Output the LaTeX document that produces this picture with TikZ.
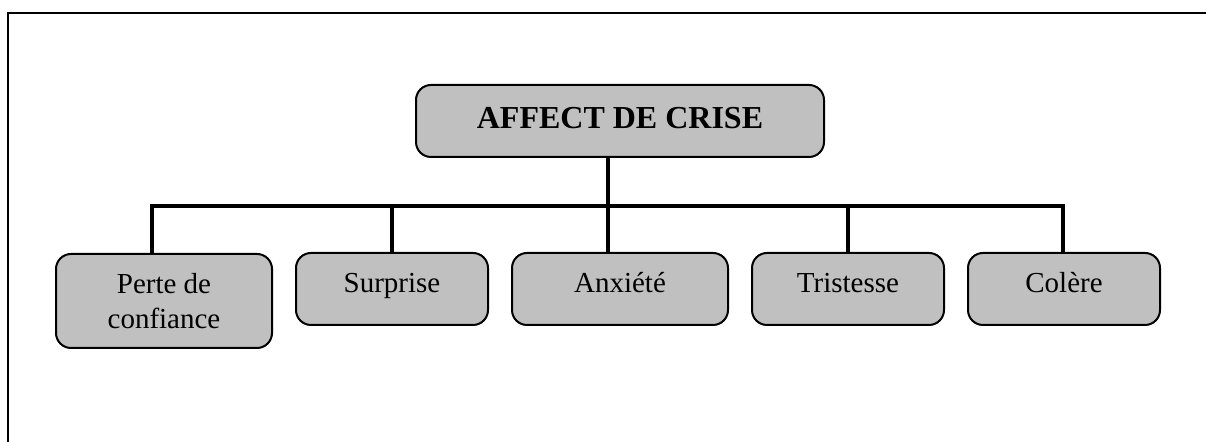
\documentclass[tikz,border=0pt]{standalone}
\usepackage{fontspec}
\setmainfont{Liberation Serif}
\usetikzlibrary{calc}
\usetikzlibrary{positioning}

\tikzset{
  box/.style={draw, line width=1pt, fill={rgb,255:red,192;green,192;blue,192}, rounded corners=7.5pt, inner sep=0pt, align=center, font=\fontsize{14.5}{17.5}\selectfont},
  oneline/.style={text height=7pt, text depth=3pt},
  conn/.style={line width=1.75pt}
}

\begin{document}
\begin{tikzpicture} [x=0.5pt,y=-0.5pt]
\useasboundingbox (0,0) rectangle (1206,442);
\draw[line width=1pt] (1206,13) -- (8,13) -- (8,442);

\node[box, text height=11pt, text depth=3pt, minimum width=204, minimum height=36, font=\bfseries\fontsize{16}{19}\selectfont] (affect) at (620,121) {AFFECT DE CRISE};

\node[box, minimum width=108, minimum height=47] (perte) at (164,301) {Perte de\\confiance};
\node[box, oneline, minimum width=96, minimum height=36] (surprise) at (392,289) {Surprise};
\node[box, oneline, minimum width=108, minimum height=36] (anxiete) at (620,289) {Anxiété};
\node[box, oneline, minimum width=96, minimum height=36] (tristesse) at (848,289) {Tristesse};
\node[box, oneline, minimum width=96, minimum height=36] (colere) at (1064,289) {Colère};

\draw[conn] ([xshift=-6pt]affect.south) -- ++(0,48) coordinate (bar);
\draw[conn] ([xshift=-6pt]perte.north) |- (bar) -| ([xshift=-0.5pt]colere.north);
\foreach \n/\s in {surprise/0pt, anxiete/-6pt, tristesse/0pt} \draw[conn] ([xshift=\s]\n.north) -- ([xshift=\s]\n.north |- bar);
\end{tikzpicture}
\end{document}
